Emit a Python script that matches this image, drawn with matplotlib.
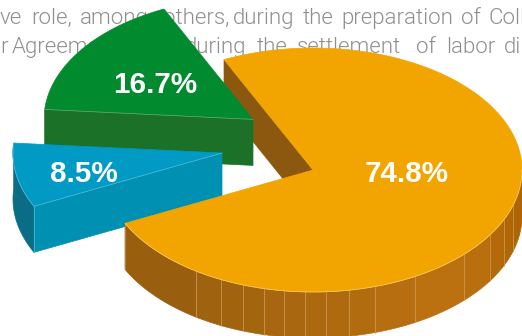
import numpy as np
import matplotlib
matplotlib.use("Agg")
import matplotlib.pyplot as plt

shares = [74.8, 16.7, 8.5]
labels = ["74.8%", "16.7%", "8.5%"]

line1_words = ["ve", "role,", "among", "others,", "during", "the", "preparation", "of", "Coll"]
line1_x = [0, 31, 80, 163, 233, 303, 341, 461, 488]
line2_words = ["r", "Agreements", "and", "during", "the", "settlement", "of", "labor", "di"]
line2_x = [0, 12, 141, 185, 257, 297, 416, 446, 504]

# x positions of the seams on the rim of the big slice
seam_x = [196, 221, 243, 264, 284, 305, 326, 349, 375, 415, 464, 490, 504, 513]

RX, RY = 209, 122
DEPTH = 46
START = 115.2
CENTERS = [(313, 170), (253, 119.4), (222, 153)]
LABEL_POS = [(407, 174), (155, 85), (84, 174)]

ORANGE, BROWN = "#f2a500", "#8c5810"
GREEN, GREEN_SIDE = "#028a2e", "#1b7127"
BLUE, BLUE_SIDE, BLUE_RIM = "#009ac4", "#0091b2", "#0a6c85"


def arc(c, a0, a1, n=200):
    t = np.radians(np.linspace(a0, a1, n))
    return c[0] + RX * np.cos(t), c[1] - RY * np.sin(t)


def poly(ax, x, y, color, z, edge=None, lw=0.5):
    ax.fill(x, y, facecolor=color, edgecolor=edge or color, lw=lw, zorder=z)


def rim_colour(x):
    # rim gets lighter from left to right, then dims a little at the far edge
    f = np.clip((x - 125) / (440 - 125), 0, 1)
    left = np.array([149, 92, 14])
    right = np.array([187, 113, 16])
    col = left + (right - left) * f
    if x > 470:
        col = col - (x - 470) * 0.25
    return col / 255


fig = plt.figure(figsize=(5.22, 3.36), dpi=100)
ax = fig.add_axes([0, 0, 1, 1])
ax.set_xlim(0, 522)
ax.set_ylim(336, 0)
ax.axis("off")

for words, xs, y in [(line1_words, line1_x, 24), (line2_words, line2_x, 53)]:
    for w, x in zip(words, xs):
        ax.text(x, y, w, fontsize=16, family="Roboto", weight=300, color="#8f8f8f",
                ha="left", va="baseline", zorder=1)

spans = [s / sum(shares) * 360 for s in shares]
a_orange = (START, START - spans[0])
a_green = (START, START + spans[1])
a_blue = (a_green[1], a_green[1] + spans[2])

# big slice, inner wall behind the other slices
c = CENTERS[0]
ax0, ay0 = arc(c, a_orange[0], a_orange[0], 1)
poly(ax, [ax0[0], c[0], c[0], ax0[0]], [ay0[0], c[1], c[1] + DEPTH, ay0[0] + DEPTH], BROWN, 2)

# green slice
c = CENTERS[1]
x, y = arc(c, *a_green)
poly(ax, [x[-1], c[0], c[0], x[-1]], [y[-1], c[1], c[1] + DEPTH, y[-1] + DEPTH], GREEN_SIDE, 3)
poly(ax, np.r_[c[0], x], np.r_[c[1], y], GREEN, 4)
ax.plot([x[-1], c[0]], [y[-1], c[1]], color="#6fa878", lw=0.5, zorder=5)

# blue slice
c = CENTERS[2]
x, y = arc(c, *a_blue)
poly(ax, np.r_[x, x[::-1]], np.r_[y, y[::-1] + DEPTH], BLUE_RIM, 6)
poly(ax, [x[-1], c[0], c[0], x[-1]], [y[-1], c[1], c[1] + DEPTH, y[-1] + DEPTH], BLUE_SIDE, 6)
poly(ax, np.r_[c[0], x], np.r_[c[1], y], BLUE, 7)
ax.plot(np.r_[x, c[0]], np.r_[y, c[1]], color="#5cbdd6", lw=0.5, zorder=8)
ax.plot([x[-1], x[-1]], [y[-1], y[-1] + DEPTH], color="#5cbdd6", lw=0.5, zorder=8)

# big slice rim, split into facets at the seams
c = CENTERS[0]
lo = a_orange[1]
seam_a = [lo] + [-np.degrees(np.arccos((s - c[0]) / RX)) for s in seam_x] + [0]
for a0, a1 in zip(seam_a[:-1], seam_a[1:]):
    x, y = arc(c, a0, a1, 40)
    col = rim_colour(x.mean())
    poly(ax, np.r_[x, x[::-1]], np.r_[y, y[::-1] + DEPTH], col, 9)
for s, a in zip(seam_x, seam_a[1:-1]):
    x, y = arc(c, a, a, 1)
    ax.plot([x[0], x[0]], [y[0], y[0] + DEPTH], color="#d0a060", lw=0.5, zorder=10)
x, y = arc(c, lo, lo, 1)
ax.plot([x[0], x[0]], [y[0], y[0] + DEPTH], color="#c09050", lw=0.5, zorder=10)

x, y = arc(c, *a_orange, 500)
poly(ax, np.r_[c[0], x], np.r_[c[1], y], ORANGE, 11)
fx, fy = arc(c, lo, 0, 300)
ax.plot(fx, fy, color="#f8cf70", lw=0.5, zorder=12)

for lab, (lx, ly) in zip(labels, LABEL_POS):
    ax.text(lx, ly, lab, fontsize=21.3, family="Liberation Sans", weight="bold",
            color="white", ha="center", va="center", zorder=20)

fig.savefig("out.png", dpi=100, facecolor="white")
